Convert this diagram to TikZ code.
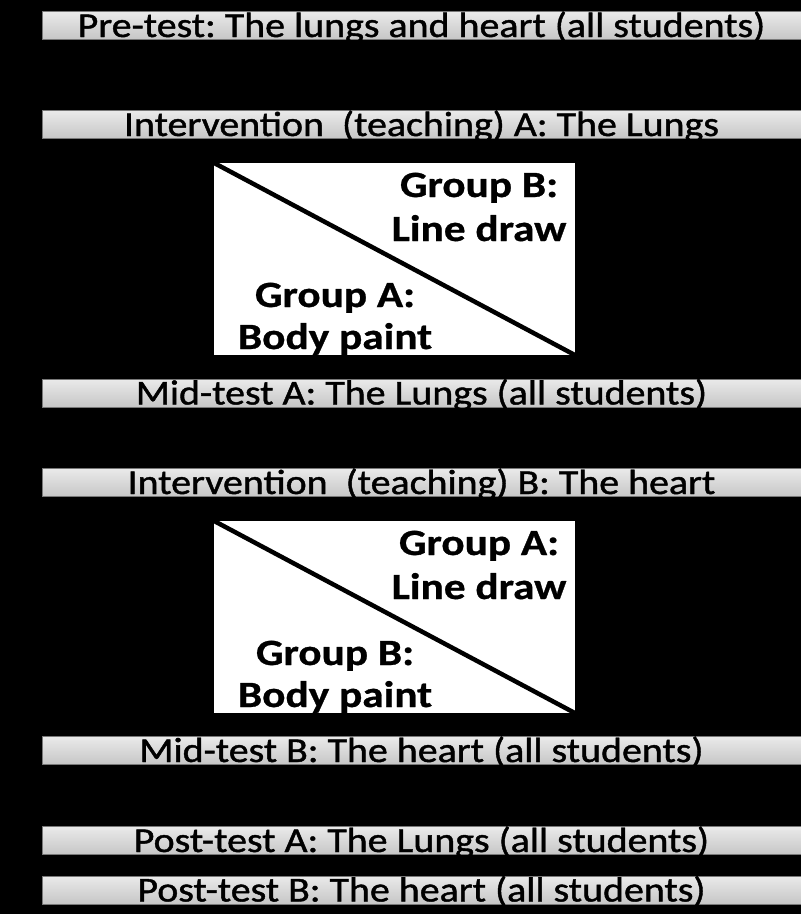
\documentclass[tikz,border=0pt]{standalone}
\usepackage{fontspec}
\setmainfont{Carlito}
\newfontfamily\barfont[FakeStretch=1.14,FakeBold=1.2]{Carlito}
\newfontfamily\groupfont[FakeStretch=1.17,FakeBold=0.8]{Carlito}
\definecolor{barTop}{RGB}{234,234,234}
\definecolor{barBot}{RGB}{198,198,198}
\definecolor{barEdge}{RGB}{120,120,120}
\frenchspacing
\begin{document}
\begin{tikzpicture}[x=1pt,y=-1pt,
  bar/.style={draw=barEdge, line width=1pt, top color=barTop, bottom color=barBot,
    minimum width=759pt, minimum height=28pt, inner sep=0pt,
    text height=23pt, text depth=0pt, text=black,
    font=\barfont\fontsize{35}{40}\selectfont},
  splitbox/.style={fill=white, minimum width=361pt, minimum height=192pt, inner sep=0pt},
  grouptext/.style={anchor=base, inner sep=0pt, text=black,
    font=\groupfont\bfseries\fontsize{37}{42}\selectfont},
  divider/.style={line width=4.5pt, black}]

% black page
\fill[black] (0,0) rectangle (801,914);
\useasboundingbox (0,0) rectangle (801,914);

% study stages
\node[bar] (pre)   at (421.5,25.5)  {Pre-test: The lungs and heart (all students)};
\node[bar] (intA)  at (421.5,124.5) {Intervention\ \ (teaching) A: The Lungs};
\node[bar] (midA)  at (421.5,393)   {Mid-test A: The Lungs (all students)};
\node[bar] (intB)  at (421.5,482.5) {Intervention\ \ (teaching) B: The heart};
\node[bar] (midB)  at (421.5,750.5) {Mid-test B: The heart (all students)};
\node[bar] (postA) at (421.5,840.5) {Post-test A: The Lungs (all students)};
\node[bar] (postB) at (421.5,890)   {Post-test B: The heart (all students)};

% first split: lungs teaching
\node[splitbox] (boxA) at (394.5,259) {};
\draw[divider] (boxA.north west) -- (boxA.south east);
\node[grouptext] (boxAgB1) at (479,197) {Group B:};
\node[grouptext] (boxAgB2) at (479,241) {Line draw};
\node[grouptext] (boxAgA1) at (335,307) {Group A:};
\node[grouptext] (boxAgA2) at (335,349) {Body paint};

% second split: heart teaching
\node[splitbox] (boxB) at (394.5,617) {};
\draw[divider] (boxB.north west) -- (boxB.south east);
\node[grouptext] (boxBgA1) at (479,555) {Group A:};
\node[grouptext] (boxBgA2) at (479,599) {Line draw};
\node[grouptext] (boxBgB1) at (335,665) {Group B:};
\node[grouptext] (boxBgB2) at (335,707) {Body paint};
\end{tikzpicture}
\end{document}
